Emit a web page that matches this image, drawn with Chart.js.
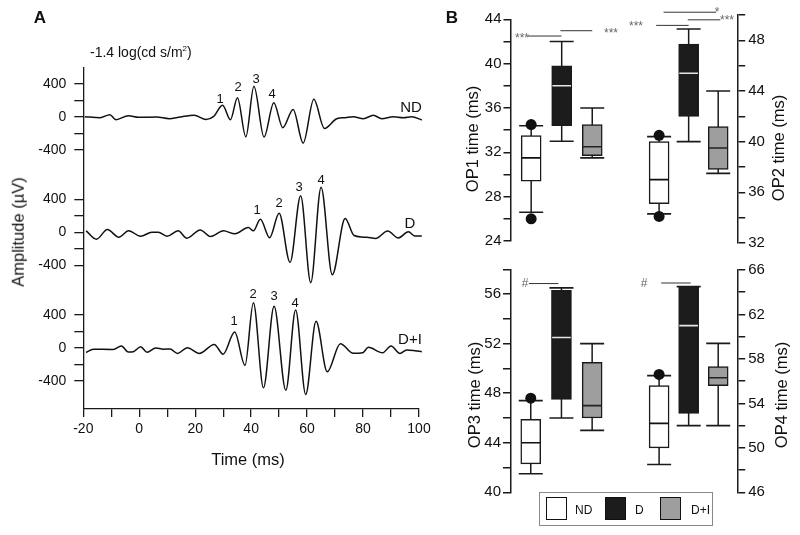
<!DOCTYPE html>
<html>
<head>
<meta charset="utf-8">
<script src="https://cdn.jsdelivr.net/npm/chart.js@4.4.1/dist/chart.umd.min.js"></script>
<style>
  body { margin: 0; background: #fff; }
  #wrap { position: relative; width: 800px; height: 535px; overflow: hidden;
          font-family: "Liberation Sans", Arial, sans-serif; color: #111; }
  canvas { position: absolute; }
  .t { position: absolute; transform: translate(-50%, -50%); white-space: nowrap; line-height: 1; }
  .r { transform: translate(-50%, -50%) rotate(-90deg); }
  .n { font-size: 13px; }
  .lab { font-size: 15px; }
  .ttl { font-size: 16.5px; }
  .sig { font-size: 12px; color: #666; }
  .pl { font-size: 17px; font-weight: bold; }
  #legend { position: absolute; left: 539px; top: 492px; width: 174px; height: 34px;
            border: 1px solid #888; box-sizing: border-box; font-size: 12px; }
  .sw { position: absolute; top: 4px; width: 21px; height: 23px; box-sizing: border-box; border: 1.5px solid #111; }
  .lt { position: absolute; top: 17px; transform: translateY(-50%); line-height: 1; }
</style>
</head>
<body>
<div id="wrap">
  <canvas id="wave" width="440" height="480" style="left:0;top:0"></canvas>
  <canvas id="op1" width="186" height="270" style="left:440px;top:0"></canvas>
  <canvas id="op2" width="174" height="270" style="left:626px;top:0"></canvas>
  <canvas id="op3" width="186" height="290" style="left:440px;top:245px"></canvas>
  <canvas id="op4" width="174" height="290" style="left:626px;top:245px"></canvas>

  <div class="t pl" style="left:40px;top:17px">A</div>
  <div class="t pl" style="left:452px;top:17px">B</div>
  <div class="t" style="left:90px;top:52px;transform:translateY(-50%);font-size:14px">-1.4 log(cd s/m<sup style="font-size:8px">2</sup>)</div>

  <div class="t n" style="left:220px;top:98px">1</div>
  <div class="t n" style="left:238px;top:86px">2</div>
  <div class="t n" style="left:256px;top:78px">3</div>
  <div class="t n" style="left:272px;top:93px">4</div>
  <div class="t lab" style="left:411px;top:106px">ND</div>

  <div class="t n" style="left:257px;top:209px">1</div>
  <div class="t n" style="left:279px;top:202px">2</div>
  <div class="t n" style="left:299px;top:186px">3</div>
  <div class="t n" style="left:321px;top:179px">4</div>
  <div class="t lab" style="left:410px;top:222px">D</div>

  <div class="t n" style="left:234px;top:320px">1</div>
  <div class="t n" style="left:253px;top:293px">2</div>
  <div class="t n" style="left:274px;top:295px">3</div>
  <div class="t n" style="left:295px;top:302px">4</div>
  <div class="t lab" style="left:410px;top:338px">D+I</div>

  <div class="t ttl r" style="left:17.5px;top:232px">Amplitude (µV)</div>
  <div class="t ttl" style="left:248px;top:459px">Time (ms)</div>

  <div class="t ttl r" style="left:471.5px;top:139px">OP1 time (ms)</div>
  <div class="t ttl r" style="left:777.5px;top:148px">OP2 time (ms)</div>
  <div class="t ttl r" style="left:474px;top:395px">OP3 time (ms)</div>
  <div class="t ttl r" style="left:781px;top:395px">OP4 time (ms)</div>

  <div class="t sig" style="left:522px;top:38px">***</div>
  <div class="t sig" style="left:611px;top:33px">***</div>
  <div class="t sig" style="left:717px;top:12px">*</div>
  <div class="t sig" style="left:727px;top:20px">***</div>
  <div class="t sig" style="left:636px;top:26px">***</div>
  <div class="t sig" style="left:525px;top:283px">#</div>
  <div class="t sig" style="left:644px;top:283px">#</div>

  <div id="legend">
    <div class="sw" style="left:6px;background:#fff"></div>
    <div class="lt" style="left:35px">ND</div>
    <div class="sw" style="left:65px;background:#1c1c1c"></div>
    <div class="lt" style="left:95px">D</div>
    <div class="sw" style="left:120px;background:#9e9e9e"></div>
    <div class="lt" style="left:151px">D+I</div>
  </div>
</div>

<script>
// ---- panel A: oscillatory potentials (time in ms, amplitude in µV)
const ndTime = [-19.5, -14.0, -10.5, -8.3, -3.9, -0.3, 6.2, 10.7, 14.6, 19.6, 23.9, 26.5, 29.8, 32.6, 35.1, 38.1, 41.0, 44.6, 48.1, 51.3, 55.0, 58.6, 62.4, 66.2, 70.6, 73.6, 76.5, 80.1, 83.7, 86.7, 90.8, 94.4, 97.4, 101];
const ndAmp  = [0, -12, 24, -36, 12, -8, -4, -24, -4, 18, -33, 0, 139, -37, 230, -244, 368, -247, 170, -133, 88, -320, 210, -143, -25, -12, 0, -24, 16, -24, 0, -12, 0, -40];

const dTime = [-19.0, -15.3, -11.4, -7.3, -3.8, 0.5, 4.5, 6.8, 9.9, 13.9, 17.0, 21.8, 25.5, 30.1, 34.2, 39.0, 40.8, 43.3, 46.6, 50.0, 53.9, 57.7, 61.3, 65.0, 69.0, 73.6, 76.8, 81.3, 84.5, 88.8, 92.6, 96.2, 98.6, 101];
const dAmp  = [16, -85, 32, -61, 18, -50, 0, 0, -49, 16, -73, 28, -53, 16, -20, 57, 16, 157, -67, 230, -366, 442, -612, 545, -517, 166, -40, -61, -75, 14, -69, 4, -47, -45];

const diTime = [-19.0, -16.4, -9.5, -6.4, -3.9, -2.1, 0.5, 2.8, 5.9, 8.6, 11.0, 13.7, 17.2, 21.5, 26.8, 30.0, 34.1, 37.8, 40.8, 44.4, 48.2, 52.4, 55.9, 59.5, 63.2, 67.2, 71.9, 76.5, 79.9, 81.9, 87.0, 90.0, 93.2, 95.6, 98.5, 101];
const diAmp  = [-58, -18, -22, 20, -52, -48, 12, -56, -4, -18, -16, -69, 0, -69, 40, -78, 190, -214, 544, -486, 501, -517, 457, -567, 320, -291, 49, -68, -61, 4, -61, 20, -69, -28, -36, -48];

const traceShift = [2800, 1400, 0];          // µV used to stack ND / D / D+I
const ampTicks = [-400, -200, 0, 200, 400];
const timeTicks = [-20, -10, 0, 10, 20, 30, 40, 50, 60, 70, 80, 90, 100];

// ---- panel B: box plots, order ND, D, D+I
const op1Low = [26.6, 33.0, 31.5], op1Q1 = [29.4, 34.4, 31.7], op1Med = [31.5, 38.0, 32.5], op1Q3 = [33.5, 39.8, 34.5], op1High = [34.4, 42.0, 36.0];
const op1Out = [34.5, 26.0];
const op2Low = [34.3, 40.0, 37.5], op2Q1 = [35.1, 42.0, 37.8], op2Med = [37.0, 45.4, 39.5], op2Q3 = [40.0, 47.7, 41.2], op2High = [40.4, 48.9, 44.0];
const op2Out = [40.5, 34.1];
const op3Low = [41.5, 46.0, 45.0], op3Q1 = [42.3, 47.5, 46.0], op3Med = [44.0, 52.5, 47.0], op3Q3 = [45.9, 56.3, 50.5], op3High = [47.4, 56.5, 52.0];
const op3Out = [47.6];
const op4Low = [48.5, 52.0, 52.0], op4Q1 = [50.0, 53.1, 55.6], op4Med = [52.2, 61.0, 56.3], op4Q3 = [55.6, 64.5, 57.3], op4High = [56.5, 64.5, 59.4];
const op4Out = [56.6];

const op1Ticks = [24, 26, 28, 30, 32, 34, 36, 38, 40, 42, 44], op1Labels = [24, 28, 32, 36, 40, 44];
const op2Ticks = [32, 34, 36, 38, 40, 42, 44, 46, 48, 50], op2Labels = [32, 36, 40, 44, 48];
const op3Ticks = [40, 42, 44, 46, 48, 50, 52, 54, 56, 58], op3Labels = [40, 44, 48, 52, 56];
const op4Ticks = [46, 48, 50, 52, 54, 56, 58, 60, 62, 64, 66], op4Labels = [46, 50, 54, 58, 62, 66];

// significance bars: [from group, to group, height]
const op1Sig = [[0.89, 1.99, 42.49], [1.96, 3.0, 42.97]];
const op2Sig = [[1.15, 2.93, 50.22], [1.97, 3.07, 49.62], [0.9, 2.0, 49.18]];
const op3Sig = [[0.94, 1.9, 56.85]];
const op4Sig = [[1.07, 2.07, 64.83]];

const boxFill = ['#ffffff', '#1c1c1c', '#9e9e9e'];
const medColor = ['#111111', '#e6e6e6', '#222222'];

Chart.defaults.font.family = '"Liberation Sans", Arial, sans-serif';
Chart.defaults.color = '#111';
Chart.defaults.animation = false;

const ink = '#1a1a1a';

function trace(t, a, shift) {
  return {
    data: t.map((v, i) => ({x: v, y: a[i] + shift})),
    borderColor: '#111', borderWidth: 1.5, pointRadius: 0,
    cubicInterpolationMode: 'monotone', clip: {left: 2, right: 5, top: 5, bottom: 5}
  };
}

new Chart(document.getElementById('wave'), {
  type: 'line',
  data: {datasets: [
    trace(ndTime, ndAmp, traceShift[0]),
    trace(dTime, dAmp, traceShift[1]),
    trace(diTime, diAmp, traceShift[2])
  ]},
  options: {
    responsive: false, events: [],
    layout: {padding: {left: 0, top: 68, right: 21, bottom: 0}},
    plugins: {legend: {display: false}, tooltip: {enabled: false}},
    scales: {
      x: {
        type: 'linear', min: -20, max: 100,
        afterFit: s => { s.height = 71; },
        afterBuildTicks: s => { s.ticks = timeTicks.map(v => ({value: v})); },
        ticks: {font: {size: 14}, padding: 4, maxRotation: 0, autoSkip: false,
                callback: v => (v % 20 === 0 ? String(v) : '')},
        grid: {drawOnChartArea: false, tickLength: 8, color: ink, lineWidth: 1.3},
        border: {color: ink, width: 1.3}
      },
      y: {
        type: 'linear', min: -743, max: 3390,
        afterFit: s => { s.width = 83.3; },
        afterBuildTicks: s => {
          const vals = [];
          traceShift.slice().reverse().forEach(o => ampTicks.forEach(a => vals.push({value: o + a})));
          s.ticks = vals;
        },
        ticks: {font: {size: 14}, padding: 8, autoSkip: false,
                callback: v => {
                  const r = Math.round(v - Math.round(v / 1400) * 1400);
                  return Math.abs(r) === 200 ? '' : String(r);
                }},
        grid: {drawOnChartArea: false, tickLength: 9, color: ink, lineWidth: 1.3},
        border: {color: ink, width: 1.3}
      }
    }
  }
});

function boxChart(id, lo, q1, med, q3, hi, out, sig, ticks, labels, side, axisW, pad) {
  const xs = [1, 2, 3];
  const whisk = [], caps = [];
  xs.forEach((x, i) => {
    whisk.push({x, y: lo[i]}, {x, y: hi[i]}, {x, y: null});
    caps.push({x, y: lo[i]}, {x, y: hi[i]});
  });
  const sigPts = [];
  sig.forEach(s => sigPts.push({x: s[0], y: s[2]}, {x: s[1], y: s[2]}, {x: s[1], y: null}));

  new Chart(document.getElementById(id), {
    type: 'bar',
    data: {datasets: [
      {type: 'line', data: whisk, borderColor: ink, borderWidth: 1.5, pointRadius: 0, spanGaps: false, order: 6},
      {type: 'bar', data: xs.map((x, i) => ({x, y: [q1[i], q3[i]]})),
       backgroundColor: boxFill, borderColor: ink, borderWidth: 1.5, borderSkipped: false,
       barThickness: 20, order: 5},
      {type: 'scatter', data: caps, pointStyle: 'line', pointRadius: 12,
       pointBorderColor: ink, pointBorderWidth: 1.6, order: 4},
      {type: 'scatter', data: xs.map((x, i) => ({x, y: med[i]})), pointStyle: 'line', pointRadius: 9.3,
       pointBorderColor: medColor, pointBorderWidth: 1.6, order: 3},
      {type: 'scatter', data: out.map(v => ({x: 1, y: v})), pointRadius: 5.5,
       pointBackgroundColor: '#111', pointBorderColor: '#111', pointBorderWidth: 0, order: 2},
      {type: 'line', data: sigPts, borderColor: '#333', borderWidth: 1, pointRadius: 0,
       spanGaps: false, clip: false, order: 1}
    ]},
    options: {
      responsive: false, events: [],
      layout: {padding: {left: 0, right: 0, top: pad[0], bottom: pad[1]}},
      plugins: {legend: {display: false}, tooltip: {enabled: false}},
      scales: {
        x: {type: 'linear', min: 0.34, max: 3.66, offset: false, display: false},
        y: {
          type: 'linear', position: side,
          min: ticks[0], max: ticks[ticks.length - 1],
          afterFit: s => { s.width = axisW; },
          afterBuildTicks: s => { s.ticks = ticks.map(v => ({value: v})); },
          ticks: {font: {size: 15}, padding: side === 'left' ? 2 : 3, autoSkip: false,
                  callback: v => (labels.includes(v) ? String(v) : '')},
          grid: {drawOnChartArea: false, tickLength: 7.5, color: ink, lineWidth: 1.5},
          border: {color: ink, width: 1.5}
        }
      }
    }
  });
}

boxChart('op1', op1Low, op1Q1, op1Med, op1Q3, op1High, op1Out, op1Sig, op1Ticks, op1Labels, 'left', 71, [19.3, 29]);
boxChart('op2', op2Low, op2Q1, op2Med, op2Q3, op2High, op2Out, op2Sig, op2Ticks, op2Labels, 'right', 62.3, [15, 27]);
boxChart('op3', op3Low, op3Q1, op3Med, op3Q3, op3High, op3Out, op3Sig, op3Ticks, op3Labels, 'left', 70.5, [24.3, 42.7]);
boxChart('op4', op4Low, op4Q1, op4Med, op4Q3, op4High, op4Out, op4Sig, op4Ticks, op4Labels, 'right', 62.3, [25, 42.7]);
</script>
</body>
</html>
